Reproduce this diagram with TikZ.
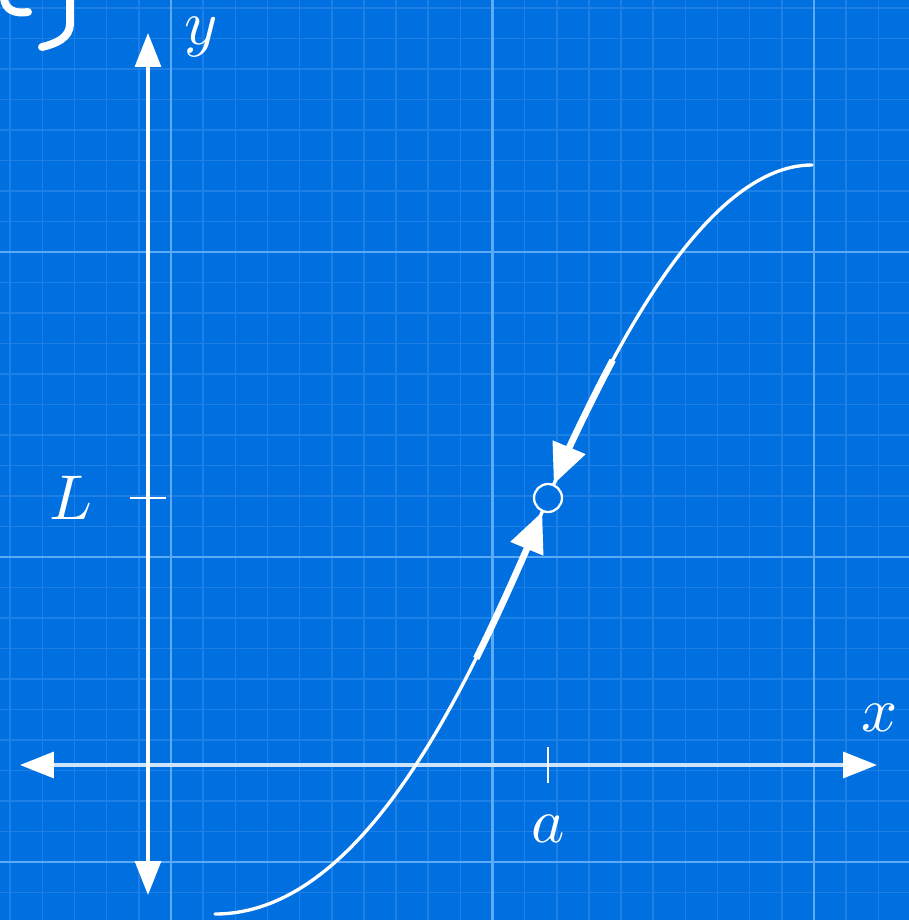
\documentclass[tikz,border=0pt]{standalone}
\usetikzlibrary{arrows.meta}
\definecolor{bpblue}{RGB}{0,112,224}
\definecolor{bpminor}{RGB}{28,128,231}
\definecolor{bpmajor}{RGB}{90,170,245}
\definecolor{bpaxis}{RGB}{205,228,250}
\newcommand{\biglbl}[1]{\scalebox{3.6}{$#1$}}
\tikzset{
  axistip/.tip={Triangle[length=0.68cm,width=0.52cm,color=white]},
  flowtip/.tip={Triangle[length=0.8cm,width=0.68cm,color=white]},
  axisline/.style={white, line width=1.9pt, axistip-axistip},
  tickline/.style={white, line width=1.3pt},
  curveline/.style={white, line width=1.9pt, line cap=round},
  flowline/.style={white, line width=3.8pt, -flowtip, shorten >=0.3cm},
  chalk/.style={white, line width=4.5pt, line cap=round},
  lbl/.style={text=white, inner sep=0pt}
}

\begin{document}
\begin{tikzpicture}[x=0.02cm,y=-0.02cm]
\fill[bpblue] (0,0) rectangle (909,920);
\useasboundingbox (0,0) rectangle (909,920);
% grid
\foreach \k in {-5,...,22}
  \draw[bpminor, line width=0.9pt] ({171+32.15*\k},0) -- ++(0,920);
\foreach \k in {-8,...,21}
  \draw[bpminor, line width=0.9pt] (0,{252+30.5*\k}) -- ++(909,0);
\foreach \k in {0,10,20}
  \draw[bpmajor, line width=1.5pt] ({171+32.15*\k},0) -- ++(0,920);
\foreach \k in {0,10,20}
  \draw[bpmajor, line width=1.5pt] (0,{252+30.5*\k}) -- ++(909,0);
% mark in the corner
\draw[chalk] (4,-2) .. controls (5,10) and (15,14) .. (28,12);
\draw[chalk] (70,-2) -- (70,24) .. controls (70,38) and (55,44) .. (42,47);
% axes
\coordinate (xl) at (20,765);
\coordinate (xr) at (877,765);
\coordinate (yb) at (148,895);
\coordinate (yt) at (148,33);
\draw[axisline, bpaxis] (xl) -- (xr);
\draw[axisline] (yb) -- (yt);
\draw[tickline] (130,498) -- (166,498);
\draw[tickline] (548,747) -- (548,783);
\node[lbl] (ylab) at (201,37) {\biglbl{y}};
\node[lbl] (xlab) at (880,718) {\biglbl{x}};
\node[lbl] (llab) at (71,498) {\biglbl{L}};
\node[lbl] (alab) at (548,829) {\biglbl{a}};
% curve
\coordinate (c0) at (215,914);
\coordinate (cm) at (548,498);
\coordinate (c1) at (812,165);
\draw[curveline] (c0) .. controls (365,914) and (471,683) .. (cm)
  .. controls (601.9,368.8) and (702,165) .. (c1);
\draw[flowline] (476.2,658.4) .. controls (502.6,605.3) and (526.4,549.8) .. (cm);
\draw[flowline] (612.7,360.2) .. controls (587.2,407.7) and (565.2,456.7) .. (cm);
\node[circle, draw=white, fill=bpblue, line width=1.3pt, minimum size=0.56cm, inner sep=0pt] (fix) at (cm) {};
\end{tikzpicture}
\end{document}
